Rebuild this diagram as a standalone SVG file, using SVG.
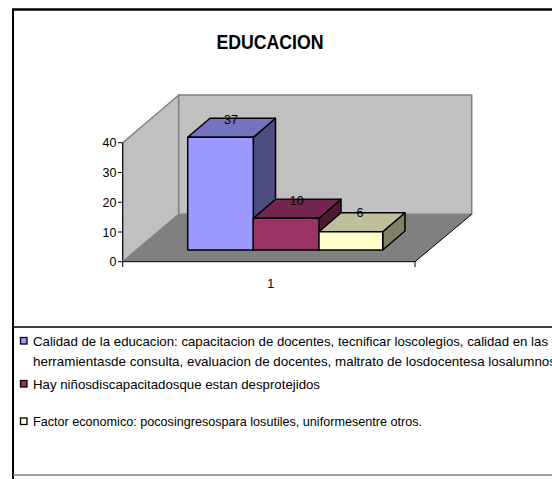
<svg xmlns="http://www.w3.org/2000/svg" width="552" height="479" viewBox="0 0 552 479">
<style>
text{font-family:"Liberation Sans",Arial,sans-serif;fill:#000}
.ax{font-size:12.5px}
.lg{font-size:13px}
.edge{stroke:#000;stroke-width:1.5;stroke-linejoin:round}
.wall{fill:#C0C0C0;stroke:#808080;stroke-width:1.5}
.mk{stroke:#000;stroke-width:1.3}
</style>
<rect x="0" y="0" width="552" height="479" fill="#fff"/>
<g id="frame">
<line x1="12" y1="9.5" x2="552" y2="9.5" stroke="#000" stroke-width="2.5"/>
<line x1="13" y1="9" x2="13" y2="479" stroke="#000" stroke-width="2"/>
<line x1="13" y1="327" x2="552" y2="327" stroke="#000" stroke-width="1.5"/>
<line x1="13" y1="475" x2="552" y2="475" stroke="#808080" stroke-width="1.5"/>
</g>
<g id="title"><text x="216.5" y="48.5" font-size="21" font-weight="bold" textLength="107" lengthAdjust="spacingAndGlyphs">EDUCACION</text></g>
<g id="plot">
<polygon class="wall" points="122.7,142.7 178.7,95 178.7,214.3 122.7,261.7"/>
<rect class="wall" x="178.7" y="95" width="293" height="119.3"/>
<polygon points="122.7,261.7 178.7,214.3 471.7,214.3 415,261.7" fill="#808080"/>
<line x1="415" y1="261.7" x2="471.7" y2="214.3" stroke="#000" stroke-width="1"/>
</g>
<g id="axes" stroke="#000" stroke-width="1">
<line x1="122.7" y1="142.7" x2="122.7" y2="261.7"/>
<line x1="122.7" y1="261.7" x2="415" y2="261.7"/>
<line x1="118" y1="142.7" x2="122.7" y2="142.7"/>
<line x1="118" y1="172.5" x2="122.7" y2="172.5"/>
<line x1="118" y1="202.2" x2="122.7" y2="202.2"/>
<line x1="118" y1="232" x2="122.7" y2="232"/>
<line x1="118" y1="261.7" x2="122.7" y2="261.7"/>
<line x1="122.7" y1="261.7" x2="122.7" y2="267"/>
<line x1="415" y1="261.7" x2="415" y2="267"/>
</g>
<g id="axis-labels" class="ax" text-anchor="end">
<text x="116.5" y="147" class="ax">40</text>
<text x="116.5" y="177" class="ax">30</text>
<text x="116.5" y="206.5" class="ax">20</text>
<text x="116.5" y="236.5" class="ax">10</text>
<text x="116.5" y="266" class="ax">0</text>
</g>
<text x="270.7" y="287.5" class="ax" text-anchor="middle">1</text>
<g id="bar1" class="edge">
<polygon points="253.3,137.3 275.5,118.3 275.5,231 253.3,250" fill="#4D4D80"/>
<polygon points="187.7,137.3 210,118.3 275.5,118.3 253.3,137.3" fill="#7373BF"/>
<rect x="187.7" y="137.3" width="65.6" height="112.7" fill="#9999FF"/>
</g>
<g id="bar2" class="edge">
<polygon points="319,218.3 341,199.3 341,231 319,250" fill="#4D1A33"/>
<polygon points="253.3,218.3 275.5,199.3 341,199.3 319,218.3" fill="#732650"/>
<rect x="253.3" y="218.3" width="65.7" height="31.7" fill="#993366"/>
</g>
<g id="bar3" class="edge">
<polygon points="382.7,231.7 405,212.7 405,231 382.7,250" fill="#808066"/>
<polygon points="319,231.7 341,212.7 405,212.7 382.7,231.7" fill="#BFBF99"/>
<rect x="319" y="231.7" width="63.7" height="18.3" fill="#FFFFCC"/>
</g>
<g id="data-labels" class="ax" text-anchor="middle">
<text x="231" y="123.5" class="ax">37</text>
<text x="296.7" y="205" class="ax">10</text>
<text x="360" y="217" class="ax">6</text>
</g>
<g id="legend">
<rect x="20.5" y="337.5" width="6.5" height="6.5" fill="#9999FF" class="mk"/>
<text x="33" y="345.5" class="lg" textLength="515" lengthAdjust="spacingAndGlyphs">Calidad de la educacion: capacitacion de docentes, tecnificar loscolegios, calidad en las</text>
<text x="33" y="365.5" class="lg" textLength="523" lengthAdjust="spacingAndGlyphs">herramientasde consulta, evaluacion de docentes, maltrato de losdocentesa losalumnos</text>
<rect x="20.5" y="380.5" width="6.5" height="6.5" fill="#993366" class="mk"/>
<text x="33" y="388.5" class="lg" textLength="287" lengthAdjust="spacingAndGlyphs">Hay niñosdiscapacitadosque estan desprotejidos</text>
<rect x="20.5" y="418" width="6.5" height="6.5" fill="#FFFFCC" class="mk"/>
<text x="33" y="426" class="lg" textLength="389" lengthAdjust="spacingAndGlyphs">Factor economico: pocosingresospara losutiles, uniformesentre otros.</text>
</g>
</svg>
